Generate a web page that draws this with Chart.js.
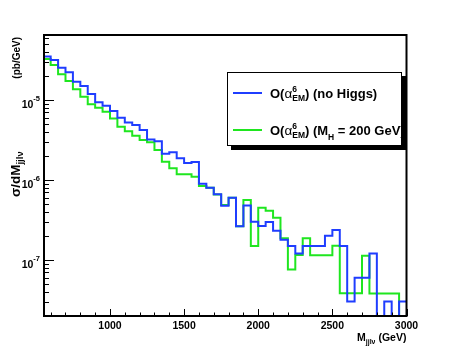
<!DOCTYPE html>
<html><head><meta charset="utf-8">
<script src="https://cdn.jsdelivr.net/npm/chart.js@4/dist/chart.umd.min.js"></script>
<style>html,body{margin:0;padding:0;background:#fff;}#wrap{width:452px;height:354px;}</style>
</head><body><div id="wrap"><canvas id="c" width="452" height="354"></canvas></div>
<script>
// ---- data ----
const binEdges = [550,600,650,700,750,800,850,900,950,1000,1050,1100,1150,1200,1250,1300,1350,1400,1450,1500,1550,1600,1650,1700,1750,1800,1850,1900,1950,2000,2050,2100,2150,2200,2250,2300,2350,2400,2450,2500,2550,2600,2650,2700,2750,2800,2850,2900,2950,3000];
const noHiggs = [3.50e-5,3.16e-5,2.53e-5,2.22e-5,1.69e-5,1.50e-5,1.19e-5,9.36e-6,8.49e-6,7.29e-6,6.01e-6,5.23e-6,4.87e-6,4.22e-6,3.21e-6,3.05e-6,2.13e-6,2.23e-6,1.87e-6,1.63e-6,1.68e-6,8.99e-7,8.01e-7,6.63e-7,4.77e-7,6.01e-7,2.65e-7,4.80e-7,3.01e-7,2.66e-7,2.99e-7,2.32e-7,1.79e-7,1.50e-7,1.21e-7,1.50e-7,1.50e-7,1.50e-7,2.01e-7,2.37e-7,1.50e-7,3.03e-8,6.01e-8,6.01e-8,1.21e-7,0,3.03e-8,0,3.03e-8];
const higgs200 = [3.25e-5,2.74e-5,2.10e-5,1.73e-5,1.36e-5,1.10e-5,8.84e-6,8.01e-6,7.14e-6,5.90e-6,4.64e-6,4.06e-6,3.58e-6,3.16e-6,2.96e-6,2.37e-6,1.69e-6,1.40e-6,1.185e-6,1.185e-6,1.10e-6,8.41e-7,8.01e-7,6.59e-7,4.87e-7,6.01e-7,2.65e-7,5.62e-7,1.50e-7,4.50e-7,4.13e-7,3.38e-7,1.87e-7,7.65e-8,1.155e-7,1.87e-7,1.145e-7,1.145e-7,1.145e-7,1.51e-7,3.84e-8,3.84e-8,3.84e-8,1.13e-7,3.82e-8,3.82e-8,3.82e-8,3.82e-8,0];
const xLabelValues = [1000,1500,2000,2500,3000];
const xTickLabels = ['1000','1500','2000','2500','3000'];
const yLabelValues = [1e-7,1e-6,1e-5];
const yLabelBase = '10';
const yLabelExponents = ['-7','-6','-5'];
const X_MIN = 555, X_MAX = 3000, Y_MIN = 2e-8, Y_MAX = 6.5e-5;

function toSteps(vals){
  return binEdges.map((e,i)=>({x:e, y: vals[Math.min(i, vals.length-1)] || Y_MIN}));
}
const FONT = "'Liberation Sans', Arial, sans-serif";

function richText(ctx, x, y, parts){
  let cx = x;
  for (const p of parts){
    if (p.stack){
      let w = 0;
      for (const s of p.stack){
        ctx.font = s.font; ctx.fillText(s.t, cx, y + s.dy);
        w = Math.max(w, ctx.measureText(s.t).width);
      }
      cx += w;
    } else {
      ctx.font = p.font; ctx.fillText(p.t, cx, y + (p.dy||0));
      cx += ctx.measureText(p.t).width;
    }
  }
  return cx;
}

const rootPlugin = {
  id: 'rootStyle',
  afterDatasetsDraw(chart){
    const {ctx, chartArea:a, scales:{x,y}} = chart;
    ctx.save();
    ctx.strokeStyle = '#000'; ctx.lineWidth = 1;
    x.ticks.forEach(t=>{
      const px = Math.round(x.getPixelForValue(t.value)) + 0.5;
      const len = (t.value % 500 === 0) ? 7 : 3.5;
      ctx.beginPath(); ctx.moveTo(px, a.bottom); ctx.lineTo(px, a.bottom - len); ctx.stroke();
    });
    y.ticks.forEach(t=>{
      const py = Math.round(y.getPixelForValue(t.value)) + 0.5;
      const major = yLabelValues.some(v=>Math.abs(v - t.value) / v < 1e-6);
      const len = major ? 10 : 5;
      ctx.beginPath(); ctx.moveTo(a.left, py); ctx.lineTo(a.left + len, py); ctx.stroke();
    });
    ctx.lineWidth = 2;
    ctx.strokeRect(a.left, a.top, a.right - a.left, a.bottom - a.top);
    // y tick labels: 10^n
    ctx.fillStyle = '#000'; ctx.textBaseline = 'alphabetic';
    yLabelValues.forEach((v, i)=>{
      const py = y.getPixelForValue(v);
      const right = a.left - 4;
      ctx.font = 'bold 7.5px ' + FONT;
      const ew = ctx.measureText(yLabelExponents[i]).width;
      ctx.textAlign = 'left';
      ctx.fillText(yLabelExponents[i], right - ew, py + 1);
      ctx.font = 'bold 10.5px ' + FONT;
      ctx.textAlign = 'right';
      ctx.fillText(yLabelBase, right - ew, py + 8);
    });
    ctx.restore();
  },
  afterDraw(chart){
    const ctx = chart.ctx;
    ctx.save();
    ctx.fillStyle = '#000'; ctx.textBaseline = 'alphabetic'; ctx.textAlign = 'left';
    // x title
    richText(ctx, 357, 341, [
      {t:'M', font:'bold 10.5px '+FONT},
      {t:'jjl\u03BD', font:'bold 7px '+FONT, dy:3},
      {t:' (GeV)', font:'bold 10.5px '+FONT}
    ]);
    // y title (rotated)
    ctx.save();
    ctx.translate(20, 197); ctx.rotate(-Math.PI/2);
    richText(ctx, 0, 0, [
      {t:'\u03C3/dM', font:'bold 13.5px '+FONT},
      {t:'jjl\u03BD', font:'bold 9.5px '+FONT, dy:3}
    ]);
    ctx.restore();
    ctx.save();
    ctx.translate(20, 37); ctx.rotate(-Math.PI/2);
    ctx.textAlign = 'right'; ctx.font = 'bold 10px '+FONT;
    ctx.fillText('(pb/GeV)', 0, 0);
    ctx.restore();
    // legend
    const L = {x:227, y:72, w:175, h:74};
    ctx.fillStyle = '#000';
    ctx.fillRect(L.x + 4, L.y + 4, L.w, L.h);
    ctx.fillStyle = '#fff';
    ctx.fillRect(L.x, L.y, L.w, L.h);
    ctx.strokeStyle = '#000'; ctx.lineWidth = 1;
    ctx.strokeRect(L.x + 0.5, L.y + 0.5, L.w - 1, L.h - 1);
    const ds = chart.data.datasets;
    const rows = [93, 130];
    ctx.save();
    ctx.beginPath(); ctx.rect(L.x, L.y, L.w - 1, L.h); ctx.clip();
    rows.forEach((ry, i)=>{
      ctx.strokeStyle = ds[i].borderColor; ctx.lineWidth = 2;
      ctx.beginPath(); ctx.moveTo(233, ry); ctx.lineTo(262, ry); ctx.stroke();
    });
    ctx.fillStyle = '#000';
    const big = 'bold 13px '+FONT, sm = 'bold 8.5px '+FONT, gr = '13.5px '+FONT;
    richText(ctx, 270, 98, [
      {t:'O(', font:big}, {t:'\u03B1', font:gr},
      {stack:[{t:'6', font:sm, dy:-6},{t:'EM', font:sm, dy:3}]},
      {t:') (no Higgs)', font:big}
    ]);
    richText(ctx, 270, 135, [
      {t:'O(', font:big}, {t:'\u03B1', font:gr},
      {stack:[{t:'6', font:sm, dy:-6},{t:'EM', font:sm, dy:3}]},
      {t:') (M', font:big}, {t:'H', font:sm, dy:5},
      {t:' = 200 GeV)', font:big}
    ]);
    ctx.restore();
    ctx.restore();
  }
};

const yTickValues = [];
[-8,-7,-6,-5].forEach(e=>{ for(let m=1;m<=9;m++){ const v = Number((m*Math.pow(10,e)).toPrecision(3)); if (v>=Y_MIN && v<=Y_MAX) yTickValues.push(v); } });
const xTickValues = [];
for (let v=600; v<=3000; v+=100) xTickValues.push(v);

new Chart(document.getElementById('c'), {
  type: 'line',
  data: { datasets: [
    { label: 'O(\u03B1\u2076_EM) (no Higgs)', data: toSteps(noHiggs), borderColor: '#1f3dff', borderWidth: 2, stepped: true, pointRadius: 0, fill: false },
    { label: 'O(\u03B1\u2076_EM) (M_H = 200 GeV)', data: toSteps(higgs200), borderColor: '#1fe61f', borderWidth: 2, stepped: true, pointRadius: 0, fill: false }
  ]},
  options: {
    responsive: false, devicePixelRatio: 1, animation: false,
    layout: { padding: { top: 35, right: 45.5, left: 0, bottom: 0 } },
    plugins: { legend: { display: false }, tooltip: { enabled: false } },
    scales: {
      x: { type: 'linear', min: X_MIN, max: X_MAX, bounds: 'data',
        afterBuildTicks: s => { s.ticks = xTickValues.map(v=>({value:v})); },
        afterFit: s => { s.height = 38; },
        grid: { display: false, drawTicks: false }, border: { display: false },
        ticks: { autoSkip: false, maxRotation: 0, padding: 4, color: '#000',
          font: { family: FONT, size: 10.5, weight: 'bold' },
          callback: v => { const i = xLabelValues.indexOf(v); return i >= 0 ? xTickLabels[i] : ''; } } },
      y: { type: 'logarithmic', min: Y_MIN, max: Y_MAX, bounds: 'data',
        afterBuildTicks: s => { s.ticks = yTickValues.map(v=>({value:v})); },
        afterFit: s => { s.width = 44; },
        grid: { display: false, drawTicks: false }, border: { display: false },
        ticks: { display: false } }
    }
  },
  plugins: [rootPlugin]
});
</script></body></html>
